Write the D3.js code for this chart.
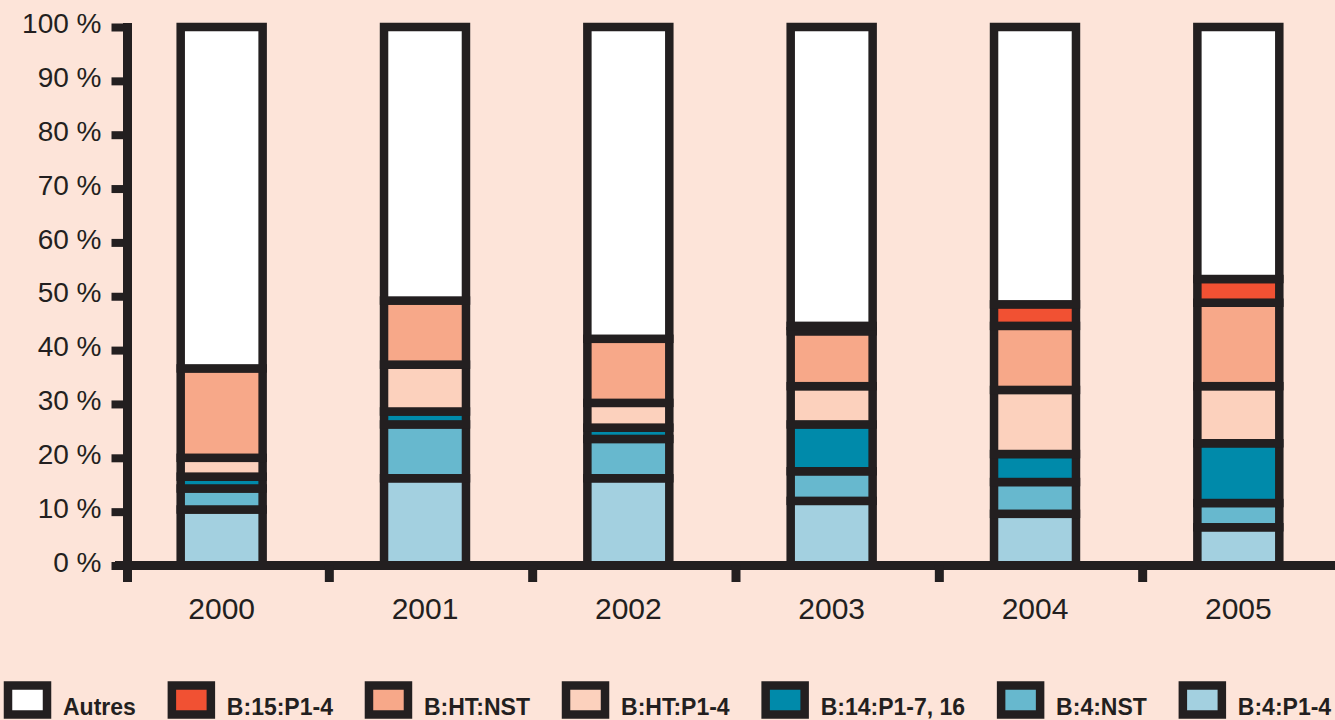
<!DOCTYPE html>
<html>
<head>
<meta charset="utf-8">
<script src="https://cdn.jsdelivr.net/npm/d3@7"></script>
<style>
  html, body { margin: 0; padding: 0; background: #fde4d9; }
  svg { display: block; }
  text { font-family: "Liberation Sans", Arial, sans-serif; fill: #231f20; }
</style>
</head>
<body>
<svg id="chart" width="1335" height="720"></svg>
<script>
// Years on the x axis
const years = ["2000", "2001", "2002", "2003", "2004", "2005"];

// Share of each group per year (%), bottom to top of each column
const b4p14   = [10.4, 16.2, 16.2, 12.0,  9.6,  7.1];
const b4nst   = [ 3.9, 10.0,  7.3,  5.5,  5.9,  4.5];
const b14     = [ 2.2,  2.4,  2.1,  8.7,  5.2, 11.1];
const bhtp14  = [ 3.5,  8.7,  4.6,  7.1, 11.9, 10.6];
const bhtnst  = [16.6, 11.9, 11.9, 10.2, 11.9, 15.5];
const b15     = [ 0.0,  0.0,  0.0,  1.0,  4.0,  4.4];
const autres  = [63.4, 50.8, 57.9, 55.5, 51.5, 46.8];

// Series names in legend order, and their fills
const legendNames = ["Autres", "B:15:P1-4", "B:HT:NST", "B:HT:P1-4", "B:14:P1-7, 16", "B:4:NST", "B:4:P1-4"];
const legendColors = ["#ffffff", "#f15133", "#f7a889", "#fcd1bd", "#008aaa", "#67b8ce", "#a3d0e0"];

// y-axis tick values and labels
const yTicks = [0, 10, 20, 30, 40, 50, 60, 70, 80, 90, 100];
const yTickLabels = yTicks.map(v => v + " %");

const stackSeries = [
  { name: "B:4:P1-4", values: b4p14 },
  { name: "B:4:NST", values: b4nst },
  { name: "B:14:P1-7, 16", values: b14 },
  { name: "B:HT:P1-4", values: bhtp14 },
  { name: "B:HT:NST", values: bhtnst },
  { name: "B:15:P1-4", values: b15 },
  { name: "Autres", values: autres }
];

const ink = "#231f20";
const svg = d3.select("#chart");

const color = d3.scaleOrdinal().domain(legendNames).range(legendColors);

const x = d3.scaleBand()
  .domain(years)
  .range([120, 1340])
  .paddingInner(0.597)
  .paddingOuter(0.2985);

const y = d3.scaleLinear().domain([0, 100]).range([565.5, 27]);

// Build rows for d3.stack
const rows = years.map((yr, i) => {
  const r = { year: yr };
  stackSeries.forEach(s => { r[s.name] = s.values[i]; });
  return r;
});
const stacked = d3.stack().keys(stackSeries.map(s => s.name))(rows);

// Bars: one rect per segment, bottom-up, with heavy dark outlines
const barsG = svg.append("g");
years.forEach((yr, i) => {
  stacked.forEach(layer => {
    const d = layer[i];
    if (d[1] - d[0] <= 0) return;
    barsG.append("rect")
      .attr("x", x(yr))
      .attr("width", x.bandwidth())
      .attr("y", y(d[1]))
      .attr("height", y(d[0]) - y(d[1]))
      .attr("fill", color(layer.key))
      .attr("stroke", ink)
      .attr("stroke-width", 8.5);
  });
});

// y axis
const yAxis = d3.axisLeft(y)
  .tickValues(yTicks)
  .tickFormat((d, i) => yTickLabels[i])
  .tickSize(16)
  .tickPadding(10);
const yG = svg.append("g").attr("transform", "translate(127.5,0)").call(yAxis);
yG.select(".domain").remove();
yG.selectAll(".tick line").attr("stroke", ink).attr("stroke-width", 8);
yG.selectAll(".tick text")
  .attr("font-size", 28)
  .attr("dy", "0.2em")
  .style("font-family", "'Liberation Sans', Arial, sans-serif")
  .attr("fill", ink);
svg.append("line")
  .attr("x1", 127.5).attr("x2", 127.5)
  .attr("y1", y(100) - 4).attr("y2", 582)
  .attr("stroke", ink).attr("stroke-width", 9);

// x axis baseline
svg.append("line")
  .attr("x1", 115).attr("x2", 1335)
  .attr("y1", y(0)).attr("y2", y(0))
  .attr("stroke", ink).attr("stroke-width", 9);

// x ticks between the year columns
const xTickG = svg.append("g");
years.slice(1).forEach(yr => {
  const tx = x(yr) - (x.step() - x.bandwidth()) / 2 + 6;
  xTickG.append("line")
    .attr("x1", tx).attr("x2", tx)
    .attr("y1", y(0)).attr("y2", 582)
    .attr("stroke", ink).attr("stroke-width", 9);
});

// Year labels
svg.append("g").selectAll("text")
  .data(years)
  .join("text")
  .attr("x", d => x(d) + x.bandwidth() / 2)
  .attr("y", 619)
  .attr("text-anchor", "middle")
  .attr("font-size", 30)
  .text(d => d);

// Legend along the bottom
const legendG = svg.append("g");
let lx = 8;
legendNames.forEach((name, i) => {
  legendG.append("rect")
    .attr("x", lx).attr("y", 685.5)
    .attr("width", 39).attr("height", 29)
    .attr("fill", legendColors[i])
    .attr("stroke", ink).attr("stroke-width", 8.5);
  const t = legendG.append("text")
    .attr("x", lx + 55)
    .attr("y", 715)
    .attr("font-size", 23)
    .attr("font-weight", "bold")
    .text(name);
  lx += 55 + t.node().getComputedTextLength() + 36;
});
</script>
</body>
</html>
